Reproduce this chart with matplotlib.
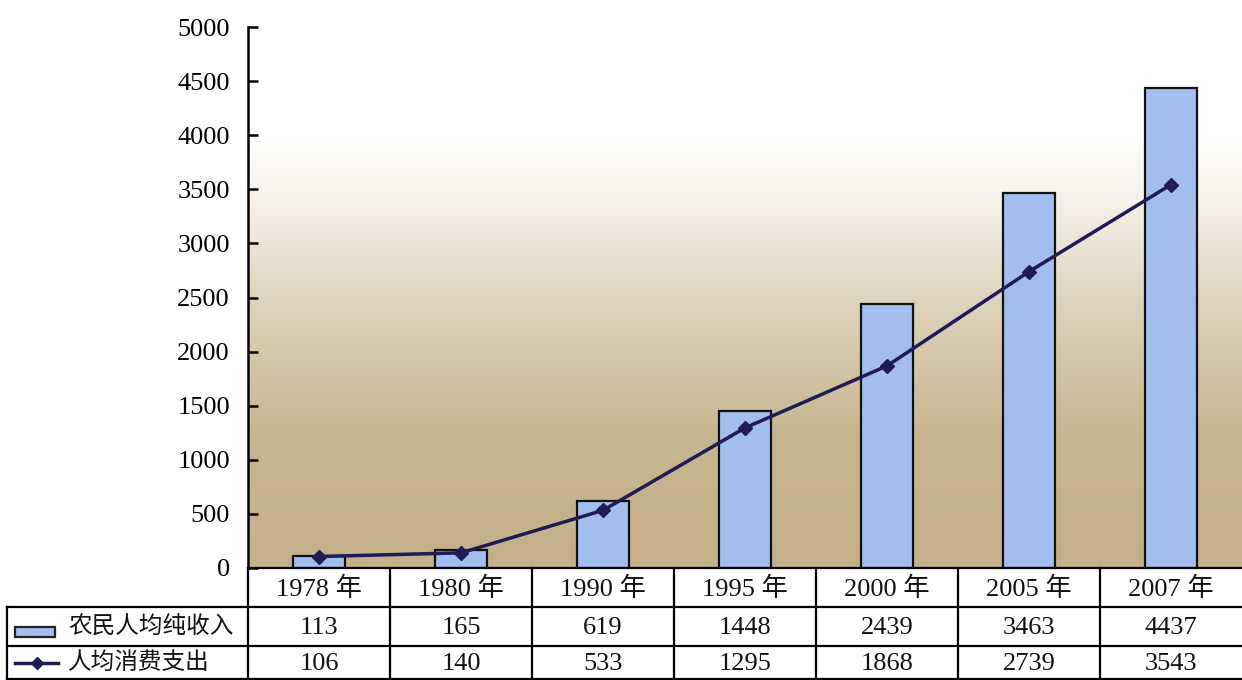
import matplotlib
matplotlib.use("Agg")
import matplotlib.pyplot as plt
import matplotlib.transforms as mtransforms
from matplotlib.colors import LinearSegmentedColormap
from matplotlib.patches import Rectangle
from matplotlib.lines import Line2D
import numpy as np

years = ["1978 年", "1980 年", "1990 年", "1995 年", "2000 年", "2005 年", "2007 年"]
income = [113, 165, 619, 1448, 2439, 3463, 4437]
spending = [106, 140, 533, 1295, 1868, 2739, 3543]
series_names = ["农民人均纯收入", "人均消费支出"]
yticks = [0, 500, 1000, 1500, 2000, 2500, 3000, 3500, 4000, 4500, 5000]

W, H = 1242, 680
fonts = ["Liberation Serif", "Noto Sans CJK SC", "DejaVu Sans"]
bar_color = "#a3bdee"
line_color = "#1e1b55"

fig = plt.figure(figsize=(W / 100, H / 100), dpi=100)

def fx(x):
    return x / W

def fy(y):
    return 1 - y / H

ax = fig.add_axes([fx(248), fy(568), fx(1242) - fx(248), fy(27) - fy(568)])

x = np.arange(len(years))

# background gradient: white at the top to tan at the bottom
cmap = LinearSegmentedColormap.from_list(
    "bg", [(0.0, "#c4b18b"), (0.25, "#c8b690"), (0.5, "#e0d4bf"),
           (0.68, "#f6f1ea"), (0.8, "#ffffff"), (1.0, "#ffffff")])
grad = np.linspace(0, 1, 256).reshape(-1, 1)
ax.imshow(grad, extent=[-0.5, len(years) - 0.5, 0, 5000], origin="lower",
          aspect="auto", cmap=cmap, zorder=0)

ax.bar(x, income, width=0.36, color=bar_color, edgecolor="#111111", linewidth=1.6, zorder=2)
ax.plot(x, spending, color=line_color, linewidth=2.5, marker="D", markersize=7, zorder=3)

ax.set_xlim(-0.5, len(years) - 0.5)
ax.set_ylim(0, 5000)
ax.set_yticks(yticks)
ax.set_xticks([])
for s in ["top", "right", "bottom"]:
    ax.spines[s].set_visible(False)
ax.spines["left"].set_linewidth(1.8)
ax.tick_params(axis="y", direction="in", length=7, width=1.8, pad=13, labelsize=19)
for lab in ax.get_yticklabels():
    lab.set_family(fonts)

# data table below the axes
trans = mtransforms.blended_transform_factory(ax.transData, fig.transFigure)
rows_y = [568, 607, 646, 680]
lw = 1.6
fig.add_artist(Line2D([fx(248), fx(1242)], [fy(rows_y[0])] * 2, color="k", lw=lw))
for yy in rows_y[1:3]:
    fig.add_artist(Line2D([fx(7), fx(1242)], [fy(yy)] * 2, color="k", lw=lw))
fig.add_artist(Line2D([fx(7), fx(1242)], [fy(679)] * 2, color="k", lw=lw))
fig.add_artist(Line2D([fx(7), fx(7)], [fy(rows_y[1]), fy(680)], color="k", lw=lw))
for i in range(len(years)):
    fig.add_artist(Line2D([i - 0.5, i - 0.5], [fy(rows_y[0]), fy(680)], color="k", lw=lw,
                          transform=trans))

for i, (yr, a, b) in enumerate(zip(years, income, spending)):
    for val, r in [(yr, 0), (str(a), 1), (str(b), 2)]:
        cy = (rows_y[r] + rows_y[r + 1]) / 2 + 1
        fig.text(i, fy(cy), val, transform=trans, ha="center", va="center",
                 fontsize=19, family=fonts, color="#111111")

# legend keys and row labels
fig.add_artist(Rectangle((fx(15), fy(637)), fx(55) - fx(15), fy(627) - fy(637),
                         facecolor=bar_color, edgecolor="#222222", lw=1.6))
fig.add_artist(Line2D([fx(15), fx(58)], [fy(663)] * 2, color=line_color, lw=2.5))
fig.add_artist(Line2D([fx(37)], [fy(663)], color=line_color, marker="D", markersize=6))
fig.text(fx(68), fy(627), series_names[0], ha="left", va="center", fontsize=17,
         family=fonts, color="#111111")
fig.text(fx(68), fy(663), series_names[1], ha="left", va="center", fontsize=17,
         family=fonts, color="#111111")

fig.savefig("out.png", dpi=100)
